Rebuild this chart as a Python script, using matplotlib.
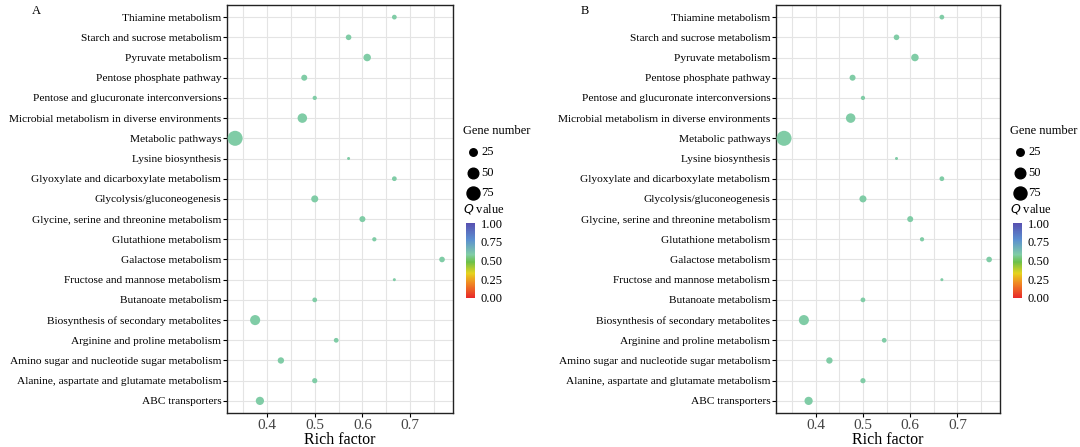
import matplotlib
matplotlib.use("Agg")
import matplotlib.pyplot as plt
import numpy as np
from matplotlib.colors import LinearSegmentedColormap
from matplotlib.lines import Line2D

pathways = ["ABC transporters", "Alanine, aspartate and glutamate metabolism",
    "Amino sugar and nucleotide sugar metabolism", "Arginine and proline metabolism",
    "Biosynthesis of secondary metabolites", "Butanoate metabolism",
    "Fructose and mannose metabolism", "Galactose metabolism", "Glutathione metabolism",
    "Glycine, serine and threonine metabolism", "Glycolysis/gluconeogenesis",
    "Glyoxylate and dicarboxylate metabolism", "Lysine biosynthesis", "Metabolic pathways",
    "Microbial metabolism in diverse environments", "Pentose and glucuronate interconversions",
    "Pentose phosphate pathway", "Pyruvate metabolism", "Starch and sucrose metabolism",
    "Thiamine metabolism"]
rich = [0.385, 0.5, 0.429, 0.545, 0.375, 0.5, 0.667, 0.767, 0.625, 0.6, 0.5,
        0.667, 0.571, 0.333, 0.474, 0.5, 0.478, 0.61, 0.571, 0.667]
genes = [30, 12, 18, 10, 45, 10, 4, 14, 8, 16, 22, 10, 4, 100, 40, 8, 16, 25, 14, 10]
qvals = [0.58] * 20

plt.rcParams['font.family'] = ['Liberation Serif', 'DejaVu Serif']
cmap = LinearSegmentedColormap.from_list("q", [(0, "#e8282a"), (0.2, "#f08a22"),
    (0.33, "#e6d41e"), (0.48, "#6cc04a"), (0.58, "#80cca6"), (0.78, "#5b8fd0"),
    (1.0, "#5850b0")])
fig = plt.figure(figsize=(10.8, 4.47), dpi=100)
W, H = 1080, 447
k = 1.17

def panel(x0, x1, label):
    ax = fig.add_axes([x0 / W, 1 - 413 / H, (x1 - x0) / W, 408 / H])
    y = np.arange(len(pathways))
    ax.scatter(rich, y, s=np.array(genes) * k, c=qvals, cmap=cmap, vmin=0, vmax=1,
               zorder=3, linewidths=0)
    ax.set_yticks(y)
    ax.set_yticklabels(pathways, fontsize=8.2)
    ax.set_ylim(-0.6, len(pathways) - 0.4)
    ax.set_xlim(0.316, 0.79)
    ax.set_xticks([0.4, 0.5, 0.6, 0.7])
    ax.set_xticklabels(["0.4", "0.5", "0.6", "0.7"], fontsize=11, color="#444444")
    ax.set_xticks([0.35, 0.45, 0.55, 0.65, 0.75], minor=True)
    ax.grid(True, which="both", color="#e4e4e4", lw=0.8, zorder=0)
    ax.tick_params(which="minor", length=0)
    ax.tick_params(axis="y", length=3, pad=1)
    ax.tick_params(axis="x", length=3, pad=1)
    ax.set_xlabel("Rich factor", fontsize=11.5, labelpad=0)
    for s in ax.spines.values():
        s.set_linewidth(1.0)
        s.set_color("#222222")
    fig.text((x0 - 195) / W, 1 - 14 / H, label, fontsize=9)
    lx = x1 + 10
    fig.text(lx / W, 1 - 134 / H, "Gene number", fontsize=9)
    for i, g in enumerate([25, 50, 75]):
        yy = 1 - (152 + 20.5 * i) / H
        fig.add_artist(Line2D([(lx + 10) / W], [yy], marker="o", ms=np.sqrt(g * k),
                              color="black", lw=0, transform=fig.transFigure))
        fig.text((lx + 18) / W, yy, str(g), fontsize=9, va="center")
    fig.text(lx / W, 1 - 212 / H, "$Q$ value", fontsize=9)
    cax = fig.add_axes([(lx + 3) / W, 1 - 298 / H, 9 / W, 75 / H])
    cb = fig.colorbar(plt.cm.ScalarMappable(cmap=cmap, norm=plt.Normalize(0, 1)), cax=cax)
    cb.set_ticks([0, 0.25, 0.5, 0.75, 1.0])
    cb.set_ticklabels(["0.00", "0.25", "0.50", "0.75", "1.00"])
    cb.outline.set_visible(False)
    cax.tick_params(labelsize=9, length=3, color="white", pad=1)

panel(227, 453, "A")
panel(776, 1000, "B")
fig.savefig("out.png", dpi=100)
